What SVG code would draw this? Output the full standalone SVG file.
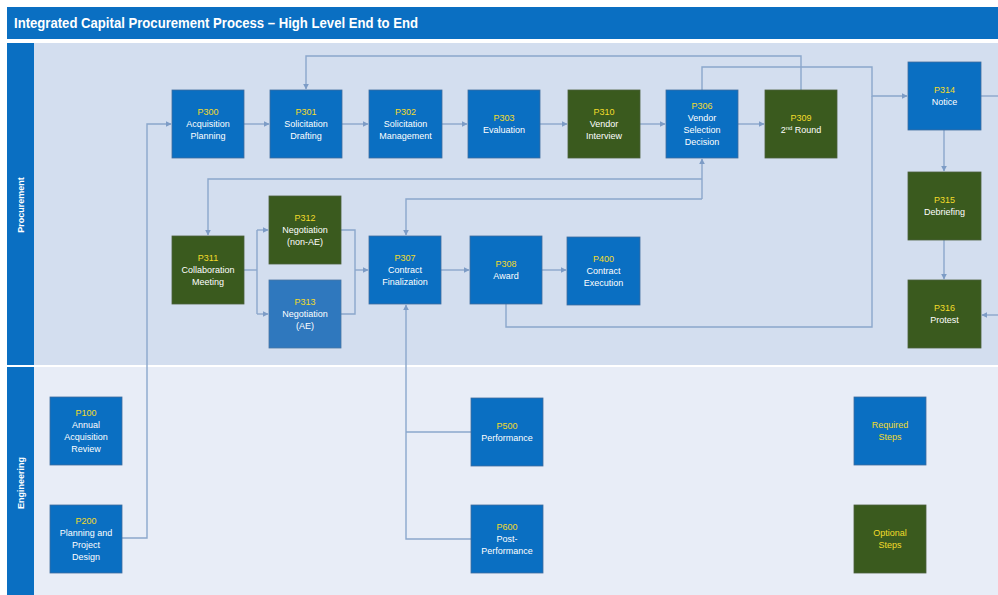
<svg xmlns="http://www.w3.org/2000/svg" width="998" height="595" viewBox="0 0 998 595">
<defs>
<marker id="arr" viewBox="0 0 10 10" refX="9" refY="5" markerWidth="6" markerHeight="6" orient="auto" markerUnits="userSpaceOnUse">
<path d="M0,0 L10,5 L0,10 z" fill="#7d9cc6"/>
</marker>
</defs>
<style>
.blue{fill:#0A6FC2;stroke:#3f6d9e;stroke-width:0.8}
.lblue{fill:#2F78BE;stroke:#4a76a3;stroke-width:0.8}
.green{fill:#3A5A1E;stroke:#4b5f3c;stroke-width:0.8}
.t{font-family:"Liberation Sans",Arial,sans-serif;font-size:9px;text-anchor:middle;fill:#ffffff}
.c{fill:#F2DC2A}
.ln{fill:none;stroke:#8BA7CC;stroke-width:1.4}
.lane{font-family:"Liberation Sans",Arial,sans-serif;font-size:9px;font-weight:bold;fill:#ffffff;text-anchor:middle}
</style>
<rect x="0" y="0" width="998" height="595" fill="#ffffff"/>
<rect x="7" y="7" width="991" height="32" fill="#0A6FC2"/>
<text x="14" y="28" font-family="'Liberation Sans',Arial,sans-serif" font-size="14" font-weight="bold" fill="#ffffff" textLength="404" lengthAdjust="spacingAndGlyphs">Integrated Capital Procurement Process – High Level End to End</text>
<g id="lanes">
<rect x="34" y="43" width="964" height="322" fill="#D3DEEF"/>
<rect x="34" y="367" width="964" height="228" fill="#E8EDF7"/>
<rect x="7" y="43" width="27" height="322" fill="#0A6FC2"/>
<rect x="7" y="367" width="27" height="228" fill="#0A6FC2"/>
<text class="lane" transform="translate(24,205) rotate(-90)">Procurement</text>
<text class="lane" transform="translate(24,483) rotate(-90)">Engineering</text>
</g>
<g id="connectors">
<path class="ln" d="M122,538 H147 V124 H171" marker-end="url(#arr)"/>
<path class="ln" d="M244,124 H269" marker-end="url(#arr)"/>
<path class="ln" d="M342,124 H368" marker-end="url(#arr)"/>
<path class="ln" d="M442,124 H467" marker-end="url(#arr)"/>
<path class="ln" d="M540,124 H567" marker-end="url(#arr)"/>
<path class="ln" d="M640,124 H665" marker-end="url(#arr)"/>
<path class="ln" d="M738,124 H764" marker-end="url(#arr)"/>
<path class="ln" d="M801,90 V56 H306 V89" marker-end="url(#arr)"/>
<path class="ln" d="M702,90 V67 H872 V96 H907" marker-end="url(#arr)"/>
<path class="ln" d="M506,304 V327 H872 V96"/>
<path class="ln" d="M980,96 H998"/>
<path class="ln" d="M944,130 V171" marker-end="url(#arr)"/>
<path class="ln" d="M944,240 V279" marker-end="url(#arr)"/>
<path class="ln" d="M998,315 H982" marker-end="url(#arr)"/>
<path class="ln" d="M702,199 V159" marker-end="url(#arr)"/>
<path class="ln" d="M702,179 H208 V235" marker-end="url(#arr)"/>
<path class="ln" d="M702,199 H406 V235" marker-end="url(#arr)"/>
<path class="ln" d="M244,270 H257"/>
<path class="ln" d="M257,230 V314"/>
<path class="ln" d="M257,230 H268" marker-end="url(#arr)"/>
<path class="ln" d="M257,314 H268" marker-end="url(#arr)"/>
<path class="ln" d="M341,230 H355 V314 H341"/>
<path class="ln" d="M355,270 H368" marker-end="url(#arr)"/>
<path class="ln" d="M441,270 H469" marker-end="url(#arr)"/>
<path class="ln" d="M542,270 H566" marker-end="url(#arr)"/>
<path class="ln" d="M471,432 H406"/>
<path class="ln" d="M471,539 H406 V305" marker-end="url(#arr)"/>
</g>
<g id="P300"><rect class="blue" x="172" y="90" width="72" height="68"/><text class="t"><tspan class="c" x="208" y="115">P300</tspan><tspan x="208" y="127">Acquisition</tspan><tspan x="208" y="139">Planning</tspan></text></g>
<g id="P301"><rect class="blue" x="270" y="90" width="72" height="68"/><text class="t"><tspan class="c" x="306" y="115">P301</tspan><tspan x="306" y="127">Solicitation</tspan><tspan x="306" y="139">Drafting</tspan></text></g>
<g id="P302"><rect class="blue" x="369" y="90" width="73" height="68"/><text class="t"><tspan class="c" x="405.5" y="115">P302</tspan><tspan x="405.5" y="127">Solicitation</tspan><tspan x="405.5" y="139">Management</tspan></text></g>
<g id="P303"><rect class="blue" x="468" y="90" width="72" height="68"/><text class="t"><tspan class="c" x="504" y="121">P303</tspan><tspan x="504" y="133">Evaluation</tspan></text></g>
<g id="P310"><rect class="green" x="568" y="90" width="72" height="68"/><text class="t"><tspan class="c" x="604" y="115">P310</tspan><tspan x="604" y="127">Vendor</tspan><tspan x="604" y="139">Interview</tspan></text></g>
<g id="P306"><rect class="blue" x="666" y="90" width="72" height="68"/><text class="t"><tspan class="c" x="702" y="109">P306</tspan><tspan x="702" y="121">Vendor</tspan><tspan x="702" y="133">Selection</tspan><tspan x="702" y="145">Decision</tspan></text></g>
<g id="P309"><rect class="green" x="765" y="90" width="72" height="68"/><text class="t"><tspan class="c" x="801" y="121">P309</tspan><tspan x="801" y="133">2<tspan font-size="6" dy="-3">nd</tspan><tspan dy="3"> Round</tspan></tspan></text></g>
<g id="P314"><rect class="blue" x="908" y="62" width="73" height="68"/><text class="t"><tspan class="c" x="944.5" y="93">P314</tspan><tspan x="944.5" y="105">Notice</tspan></text></g>
<g id="P315"><rect class="green" x="908" y="172" width="73" height="68"/><text class="t"><tspan class="c" x="944.5" y="203">P315</tspan><tspan x="944.5" y="215">Debriefing</tspan></text></g>
<g id="P316"><rect class="green" x="908" y="280" width="73" height="68"/><text class="t"><tspan class="c" x="944.5" y="311">P316</tspan><tspan x="944.5" y="323">Protest</tspan></text></g>
<g id="P311"><rect class="green" x="172" y="236" width="72" height="68"/><text class="t"><tspan class="c" x="208" y="261">P311</tspan><tspan x="208" y="273">Collaboration</tspan><tspan x="208" y="285">Meeting</tspan></text></g>
<g id="P312"><rect class="green" x="269" y="196" width="72" height="68"/><text class="t"><tspan class="c" x="305" y="221">P312</tspan><tspan x="305" y="233">Negotiation</tspan><tspan x="305" y="245">(non-AE)</tspan></text></g>
<g id="P313"><rect class="lblue" x="269" y="280" width="72" height="68"/><text class="t"><tspan class="c" x="305" y="305">P313</tspan><tspan x="305" y="317">Negotiation</tspan><tspan x="305" y="329">(AE)</tspan></text></g>
<g id="P307"><rect class="blue" x="369" y="236" width="72" height="68"/><text class="t"><tspan class="c" x="405" y="261">P307</tspan><tspan x="405" y="273">Contract</tspan><tspan x="405" y="285">Finalization</tspan></text></g>
<g id="P308"><rect class="blue" x="470" y="236" width="72" height="68"/><text class="t"><tspan class="c" x="506" y="267">P308</tspan><tspan x="506" y="279">Award</tspan></text></g>
<g id="P400"><rect class="blue" x="567" y="237" width="73" height="68"/><text class="t"><tspan class="c" x="603.5" y="262">P400</tspan><tspan x="603.5" y="274">Contract</tspan><tspan x="603.5" y="286">Execution</tspan></text></g>
<g id="P100"><rect class="blue" x="50" y="397" width="72" height="68"/><text class="t"><tspan class="c" x="86" y="416">P100</tspan><tspan x="86" y="428">Annual</tspan><tspan x="86" y="440">Acquisition</tspan><tspan x="86" y="452">Review</tspan></text></g>
<g id="P200"><rect class="blue" x="50" y="505" width="72" height="68"/><text class="t"><tspan class="c" x="86" y="524">P200</tspan><tspan x="86" y="536">Planning and</tspan><tspan x="86" y="548">Project</tspan><tspan x="86" y="560">Design</tspan></text></g>
<g id="P500"><rect class="blue" x="471" y="398" width="72" height="68"/><text class="t"><tspan class="c" x="507" y="429">P500</tspan><tspan x="507" y="441">Performance</tspan></text></g>
<g id="P600"><rect class="blue" x="471" y="505" width="72" height="68"/><text class="t"><tspan class="c" x="507" y="530">P600</tspan><tspan x="507" y="542">Post-</tspan><tspan x="507" y="554">Performance</tspan></text></g>
<g id="legend-required"><rect class="blue" x="854" y="397" width="72" height="68"/><text class="t"><tspan class="c" x="890" y="428">Required</tspan><tspan class="c" x="890" y="440">Steps</tspan></text></g>
<g id="legend-optional"><rect class="green" x="854" y="505" width="72" height="68"/><text class="t"><tspan class="c" x="890" y="536">Optional</tspan><tspan class="c" x="890" y="548">Steps</tspan></text></g>
</svg>
